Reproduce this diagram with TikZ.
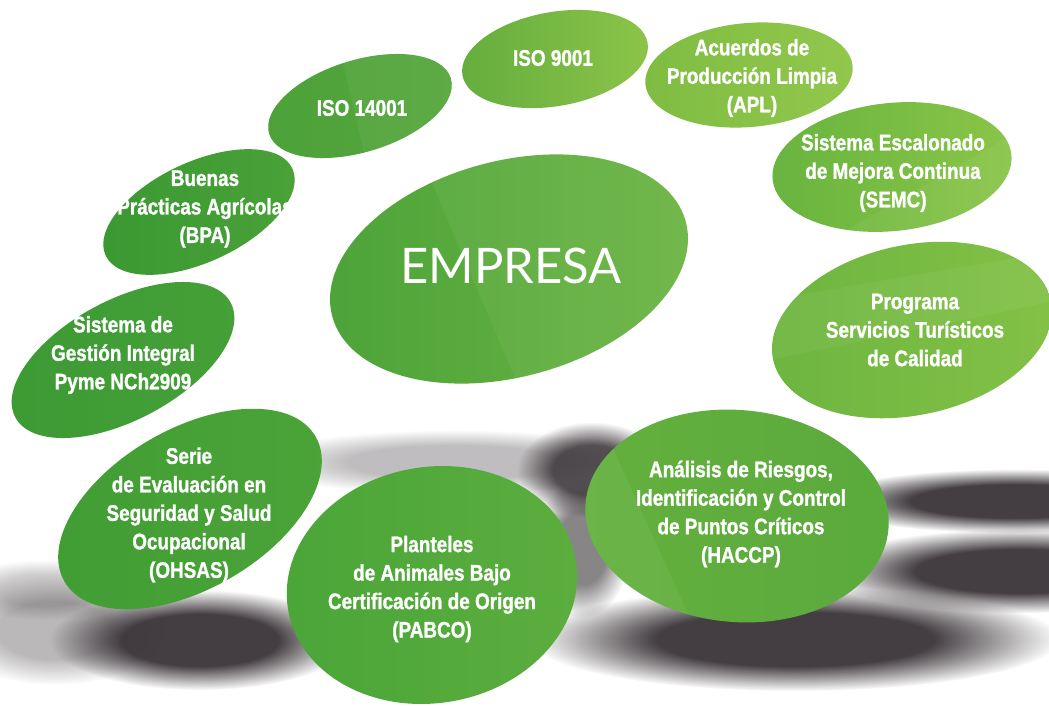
\documentclass[tikz,border=0pt]{standalone}
\usepackage{fontspec}
\newfontfamily\cond[FakeStretch=0.84, BoldFeatures={FakeBold=1.2}]{Liberation Sans}
\newfontfamily\empfont{Lato}
\usetikzlibrary{shapes.geometric,fadings}
\definecolor{shadowc}{RGB}{58,52,56}
\definecolor{empL}{RGB}{76,163,57}\definecolor{empR}{RGB}{108,181,66}
\definecolor{isoaL}{RGB}{76,161,57}\definecolor{isoaR}{RGB}{86,167,60}
\definecolor{isobL}{RGB}{100,173,62}\definecolor{isobR}{RGB}{140,196,72}
\definecolor{aplL}{RGB}{126,189,66}\definecolor{aplR}{RGB}{146,199,76}
\definecolor{semcL}{RGB}{104,180,62}\definecolor{semcR}{RGB}{138,197,72}
\definecolor{progL}{RGB}{108,181,64}\definecolor{progR}{RGB}{132,193,70}
\definecolor{hacL}{RGB}{100,176,62}\definecolor{hacR}{RGB}{90,170,60}
\definecolor{pabL}{RGB}{74,165,56}\definecolor{pabR}{RGB}{92,174,62}
\definecolor{ohsL}{RGB}{64,157,52}\definecolor{ohsR}{RGB}{76,164,56}
\definecolor{nchL}{RGB}{60,154,52}\definecolor{nchR}{RGB}{70,160,56}
\definecolor{bpaL}{RGB}{58,152,50}\definecolor{bpaR}{RGB}{74,162,56}
\pgfdeclareradialshading{softsh}{\pgfpointorigin}{color(0bp)=(white); color(13bp)=(white); color(25bp)=(black); color(50bp)=(black)}
\pgfdeclarefading{softell}{\pgfuseshading{softsh}}
\newcommand{\softblob}[5]{\fill[shadowc, opacity=#5, path fading=softell, fit fading=true] (#1,#2) ellipse (#3 and #4);}
\begin{document}
\begin{tikzpicture}[x=1pt,y=-1pt,
  bub/.style={ellipse, inner sep=0pt, draw=none},
  lbl/.style={text=white, font=\cond\bfseries\fontsize{22.5}{28.5}\selectfont, align=center, inner sep=0pt},
  facet/.style={white, opacity=0.05}]
\fill[white] (0,0) rectangle (1049,705);
\useasboundingbox (0,0) rectangle (1049,705);
\clip (0,0) rectangle (1049,705);
% shadows
\softblob{1015}{501}{200}{32}{0.95}
\softblob{1020}{571}{200}{42}{0.95}
\softblob{795}{639}{265}{52}{0.95}
\softblob{592}{470}{75}{48}{0.85}
\softblob{582}{548}{48}{70}{0.6}
\softblob{455}{462}{205}{32}{0.32}
\softblob{200}{640}{150}{50}{0.95}
\softblob{55}{630}{110}{55}{0.35}
\softblob{45}{590}{95}{30}{0.25}
% bubbles
\node[bub, minimum width=366pt, minimum height=216pt, rotate=15, left color=empL, right color=empR] (empresa) at (509,269) {};
\node[bub, minimum width=190pt, minimum height=92pt, rotate=17, left color=isoaL, right color=isoaR] (iso14) at (360,106) {};
\node[bub, minimum width=188pt, minimum height=94pt, rotate=10, left color=isobL, right color=isobR] (iso9) at (555,59) {};
\node[bub, minimum width=208pt, minimum height=104pt, rotate=5, left color=aplL, right color=aplR] (apl) at (749,75) {};
\node[bub, minimum width=240pt, minimum height=128pt, rotate=6, left color=semcL, right color=semcR] (semc) at (892,167) {};
\node[bub, minimum width=284pt, minimum height=170pt, rotate=12, left color=progL, right color=progR] (prog) at (912,330) {};
\node[bub, minimum width=304pt, minimum height=212pt, rotate=-5, left color=hacL, right color=hacR] (haccp) at (737,516) {};
\node[bub, minimum width=292pt, minimum height=236pt, rotate=10, left color=pabL, right color=pabR] (pabco) at (432,585) {};
\node[bub, minimum width=290pt, minimum height=160pt, rotate=30, left color=ohsL, right color=ohsR] (ohsas) at (190,509) {};
\node[bub, minimum width=244pt, minimum height=120pt, rotate=28, left color=nchL, right color=nchR] (nch) at (123,360) {};
\node[bub, minimum width=206pt, minimum height=100pt, rotate=25, left color=bpaL, right color=bpaR] (bpa) at (199,212) {};
% facets
\begin{scope}
\clip[rotate around={15:(509,269)}] (509,269) ellipse (183 and 108);
\fill[facet] (418,150) -- (700,150) -- (700,300) -- (520,390) -- cycle;
\end{scope}
\begin{scope}
\clip[rotate around={17:(360,106)}] (360,106) ellipse (95 and 46);
\fill[facet] (340,50) -- (460,50) -- (460,170) -- (368,170) -- cycle;
\end{scope}
\begin{scope}
\clip[rotate around={6:(892,167)}] (892,167) ellipse (120 and 64);
\fill[facet] (830,240) -- (1020,130) -- (1020,240) -- cycle;
\end{scope}
\begin{scope}
\clip[rotate around={-5:(737,516)}] (737,516) ellipse (152 and 106);
\fill[facet] (580,450) -- (600,420) -- (700,640) -- (580,640) -- cycle;
\end{scope}
\begin{scope}
\clip[rotate around={12:(912,330)}] (912,330) ellipse (142 and 85);
\fill[facet] (770,300) -- (1060,250) -- (1060,300) -- (770,360) -- cycle;
\end{scope}
% labels
\node[text=white, font=\empfont\fontsize{49}{49}\selectfont, inner sep=0pt] (t-emp) at (511,266) {EMPRESA};
\node[lbl] (t-iso9) at (553,58) {ISO 9001};
\node[lbl] (t-iso14) at (362,108) {ISO 14001};
\node[lbl] (t-apl) at (752,78) {Acuerdos de\\Producción Limpia\\(APL)};
\node[lbl] (t-semc) at (893,173) {Sistema Escalonado\\de Mejora Continua\\(SEMC)};
\node[lbl] (t-prog) at (915,330) {Programa\\Servicios Turísticos\\de Calidad};
\node[lbl] (t-hac) at (741,514) {Análisis de Riesgos,\\Identificación y Control\\de Puntos Críticos\\(HACCP)};
\node[lbl] (t-pab) at (432,589) {Planteles\\de Animales Bajo\\Certificación de Origen\\(PABCO)};
\node[lbl] (t-ohs) at (189,515) {Serie\\de Evaluación en\\Seguridad y Salud\\Ocupacional\\(OHSAS)};
\node[lbl] (t-nch) at (123,355) {Sistema de\\Gestión Integral\\Pyme NCh2909};
\node[lbl] (t-bpa) at (205,209) {Buenas\\Prácticas Agrícolas\\(BPA)};
\end{tikzpicture}
\end{document}
